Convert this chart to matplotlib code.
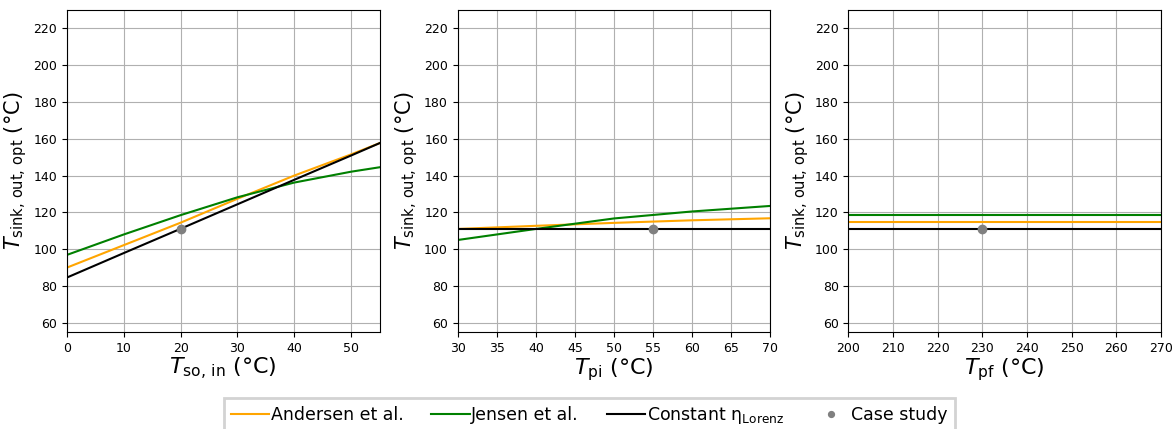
import numpy as np
import matplotlib.pyplot as plt

# Optimal sink outlet temperature vs. source / process temperatures

# Panel 1: source inlet temperature
t_so_in = [0, 10, 20, 30, 40, 50, 55]
andersen_so = [90.0, 102.2, 114.4, 127.4, 140.0, 151.5, 157.6]
jensen_so = [96.9, 108.0, 118.5, 128.2, 136.2, 142.1, 144.5]
lorenz_so = [84.6, 97.9, 111.1, 124.4, 137.7, 150.9, 157.6]

# Panel 2: pinch inlet temperature
t_pi = [30, 40, 50, 60, 70]
andersen_pi = [111.0, 112.7, 114.3, 115.7, 116.8]
jensen_pi = [105.0, 111.0, 116.7, 120.5, 123.5]
lorenz_pi = [111.1, 111.1, 111.1, 111.1, 111.1]

# Panel 3: pinch final temperature
t_pf = [200, 270]
andersen_pf = [114.9, 114.9]
jensen_pf = [118.7, 118.7]
lorenz_pf = [111.1, 111.1]

# Case study point for each panel
case_x = [20, 55, 230]
case_y = [111.1, 111.1, 111.1]

xlabels = [r'$T_{\rm so,\,in}$ (°C)', r'$T_{\rm pi}$ (°C)', r'$T_{\rm pf}$ (°C)']
xlims = [(0, 55), (30, 70), (200, 270)]

panels = [
    (t_so_in, andersen_so, jensen_so, lorenz_so),
    (t_pi, andersen_pi, jensen_pi, lorenz_pi),
    (t_pf, andersen_pf, jensen_pf, lorenz_pf),
]

fig, axes = plt.subplots(1, 3, figsize=(11.74, 4.29), dpi=100)
fig.subplots_adjust(left=0.057, right=0.989, top=0.977, bottom=0.226, wspace=0.25)

for i, ax in enumerate(axes):
    x, a, j, l = panels[i]
    ax.plot(x, a, color='orange', lw=1.5, label='Andersen et al.')
    ax.plot(x, j, color='green', lw=1.5, label='Jensen et al.')
    ax.plot(x, l, color='black', lw=1.5, label=r'Constant $\mathregular{\eta_{Lorenz}}$')
    ax.plot(case_x[i], case_y[i], 'o', color='grey', ms=6, label='Case study', zorder=3)
    ax.set_xlim(xlims[i])
    ax.set_ylim(55, 230)
    ax.set_yticks(range(60, 221, 20))
    ax.grid(True)
    ax.set_axisbelow(True)
    ax.set_xlabel(xlabels[i], fontsize=16, labelpad=1)
    ax.set_ylabel(r'$T_{\rm sink,\,out,\,opt}$ (°C)', fontsize=15, labelpad=3)
    ax.tick_params(labelsize=9)

handles, labels = axes[0].get_legend_handles_labels()
leg = fig.legend(handles, labels, loc='lower center', bbox_to_anchor=(0.502, -0.03),
                 ncol=4, fontsize=12.5, markerscale=0.7, handlelength=2.2,
                 handletextpad=0.1, columnspacing=1.6,
                 fancybox=False, edgecolor='lightgrey', framealpha=1)
leg.get_frame().set_linewidth(2)

plt.savefig('out.png', dpi=100)
